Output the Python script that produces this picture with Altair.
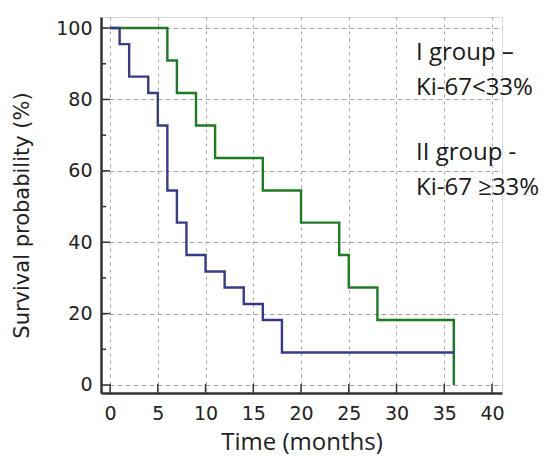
import altair as alt
import pandas as pd

# Kaplan-Meier steps
time_I = [0, 6, 7, 9, 11, 16, 20, 24, 25, 28, 36]
surv_I = [100, 90.9, 81.8, 72.7, 63.6, 54.5, 45.5, 36.4, 27.3, 18.2, 0]

time_II = [0, 1, 2, 4, 5, 6, 7, 8, 10, 12, 14, 16, 18, 36]
surv_II = [100, 95.5, 86.4, 81.8, 72.7, 54.5, 45.5, 36.4, 31.8, 27.3, 22.7, 18.2, 9.1, 9.1]

groups = ["I", "II"]
colors = ["#1f7a24", "#3a3a8a"]

x_ticks = [0, 5, 10, 15, 20, 25, 30, 35, 40]
y_ticks = [0, 20, 40, 60, 80, 100]
y_minor = [10, 30, 50, 70, 90]

annot_I = ["I group \u2013", "Ki-67<33%"]
annot_II = ["II group -", "Ki-67 \u226533%"]

W, H = 401, 376

df = pd.concat([
    pd.DataFrame({"time": time_I, "surv": surv_I, "group": groups[0]}),
    pd.DataFrame({"time": time_II, "surv": surv_II, "group": groups[1]}),
])

xscale = alt.Scale(domain=[-0.95, 41.05], nice=False, zero=False)
yscale = alt.Scale(domain=[-2.25, 103.1], nice=False, zero=False)

lines = alt.Chart(df).mark_line(interpolate="step-after", strokeWidth=2.4).encode(
    x=alt.X("time:Q", scale=xscale, axis=alt.Axis(
        values=x_ticks, title="Time (months)", tickSize=0, labelPadding=11,
        labelFont="DejaVu Sans", labelFontSize=19, labelColor="#222",
        titleFont="Open Sans", titleFontSize=24, titleFontWeight="normal", titleColor="#222",
        titleX=W / 2, titleY=56, titleBaseline="alphabetic", titleAnchor="middle",
        grid=True, gridDash=[3, 4], gridColor="#a5a5a5", gridWidth=1,
        domainColor="#333", domainWidth=2.5)),
    y=alt.Y("surv:Q", scale=yscale, axis=alt.Axis(
        values=y_ticks, title="Survival probability (%)", tickSize=0, labelPadding=9,
        labelFont="DejaVu Sans", labelFontSize=19, labelColor="#222",
        titleFont="DejaVu Sans", titleFontSize=21, titleFontWeight="normal", titleColor="#222",
        titleX=-73, titleY=H / 2 + 10, titleBaseline="alphabetic", titleAngle=270,
        grid=True, gridDash=[5, 3], gridColor="#a5a5a5", gridWidth=1,
        domainColor="#333", domainWidth=2.5)),
    color=alt.Color("group:N", scale=alt.Scale(domain=groups, range=colors), legend=None),
    detail="group:N",
)

ymaj = alt.Chart(pd.DataFrame({"v": y_ticks})).mark_rule(color="#333", strokeWidth=1.5).encode(
    y=alt.Y("v:Q", scale=yscale), x=alt.value(0), x2=alt.value(9))
ymin = alt.Chart(pd.DataFrame({"v": y_minor})).mark_rule(color="#333", strokeWidth=1.5).encode(
    y=alt.Y("v:Q", scale=yscale), x=alt.value(0), x2=alt.value(5))
xmaj = alt.Chart(pd.DataFrame({"v": x_ticks})).mark_rule(color="#333", strokeWidth=1.5).encode(
    x=alt.X("v:Q", scale=xscale), y=alt.value(H), y2=alt.value(H - 9))

txt_style = dict(align="left", baseline="alphabetic", font="Open Sans", fontSize=24,
                 lineHeight=35, color="#1a1a1a")
t1 = alt.Chart(pd.DataFrame({"a": [0]})).mark_text(**txt_style).encode(
    x=alt.value(315), y=alt.value(43), text=alt.value(annot_I))
t2 = alt.Chart(pd.DataFrame({"a": [0]})).mark_text(**txt_style).encode(
    x=alt.value(315), y=alt.value(143), text=alt.value(annot_II))

chart = alt.layer(lines, ymaj, ymin, xmaj, t1, t2).properties(
    width=W, height=H,
    autosize=alt.AutoSizeParams(type="none"),
    padding={"left": 93, "top": 9, "right": 40, "bottom": 64},
).configure_view(stroke=None).configure(background="white")

chart.save("out.html", embed_options={"renderer": "svg", "actions": False})
